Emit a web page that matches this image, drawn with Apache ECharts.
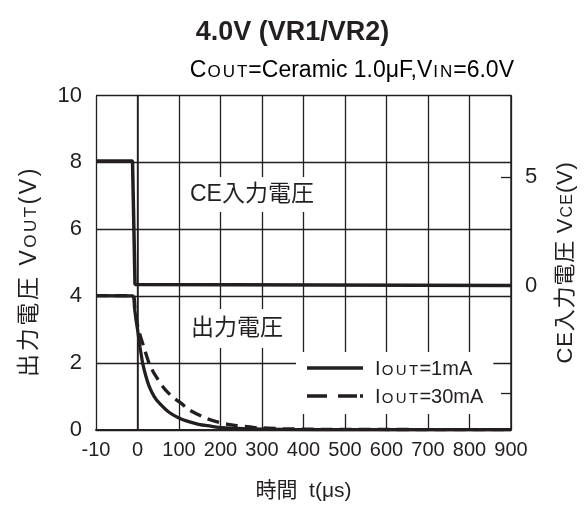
<!DOCTYPE html>
<html><head><meta charset="utf-8">
<script src="https://cdn.jsdelivr.net/npm/echarts@6/dist/echarts.min.js"></script>
<style>html,body{margin:0;padding:0;background:#fff}#c{width:585px;height:507px}</style>
</head><body><div id="c"></div>
<script>
// ---- data ----
const xTickLabels = ['-10','0','100','200','300','400','500','600','700','800','900'];
const ceTime = [-100, -12, -6, 900];
const ceVolt = [5.75, 5.75, 0.05, 0.0];
const out1Time = [-100, -11, -7.3, -3.3, 0.6, 4.6, 8.6, 12.5, 20.4, 28.4, 40.3, 52.1, 75.9, 99.7, 123.5, 147, 178.9, 202, 257, 350, 500, 900];
const out1Volt = [4.02, 4.01, 3.66, 3.27, 2.97, 2.58, 2.28, 1.99, 1.60, 1.30, 1.00, 0.81, 0.53, 0.36, 0.25, 0.17, 0.11, 0.07, 0.04, 0.02, 0.01, 0.01];
const out30Time = [-100, -11, -6, -1, 3, 16, 28, 40, 64, 85, 104, 125, 163, 190, 218, 280, 350, 450, 900];
const out30Volt = [4.02, 4.02, 3.6, 3.2, 2.97, 2.45, 1.99, 1.69, 1.25, 0.98, 0.81, 0.60, 0.36, 0.25, 0.17, 0.08, 0.04, 0.02, 0.01];
const rightLabelValues = [0, 5];
const rightTickValues = [-5, 0, 5];
const seriesNames = ['IOUT=1mA', 'IOUT=30mA'];

// ---- style ----
const INK = '#231f20';
const FF = "'Liberation Sans', Arial, 'Noto Sans CJK JP', sans-serif";
function tok(str, key) { return str.split('').map(c => '{' + key + '|' + c + '}').join(''); }
function richSet(big, small, padBig, padSmall) {
  return {
    n: { fontSize: big, fontFamily: FF, color: INK, verticalAlign: 'bottom', lineHeight: big + 2, padding: [0, padBig, 0, padBig] },
    s: { fontSize: small, fontFamily: FF, color: INK, verticalAlign: 'bottom', lineHeight: small + 2, padding: [0, padSmall, Math.round(big * 0.06), padSmall] }
  };
}
const pair = (ts, vs) => ts.map((t, i) => [t, vs[i]]);

const chart = echarts.init(document.getElementById('c'), null, { renderer: 'canvas' });
const option = {
  backgroundColor: '#fff',
  animation: false,
  textStyle: { fontFamily: FF, color: INK },
  title: {
    text: '4.0V (VR1/VR2)', left: 'center', top: 14,
    textStyle: { fontSize: 27, fontWeight: 'bold', color: INK, fontFamily: FF }
  },
  grid: { left: 96, right: 68, top: 95.5, bottom: 73, containLabel: false },
  legend: {
    orient: 'vertical', left: 296, top: 352,
    backgroundColor: '#fff', padding: [7, 10, 7, 11],
    itemWidth: 56, itemHeight: 14, itemGap: 8, symbolKeepAspect: true,
    data: [
      { name: seriesNames[0], icon: 'path://M0,0H56V3.5H0Z' },
      { name: seriesNames[1], icon: 'path://M0,0H20V3.5H0Z M31,0H50V3.5H31Z M53,0H56V3.5H53Z' }
    ],
    formatter: function (name) {
      const m = name.match(/^IOUT(.*)$/);
      return '{n|I}' + tok('OUT', 's') + '{n|' + m[1] + '}';
    },
    textStyle: { padding: [0, 0, 0, 7], rich: richSet(20, 15, 0, 1.2) }
  },
  xAxis: {
    type: 'value', min: -100, max: 900, interval: 100,
    axisLine: { show: true, lineStyle: { color: INK, width: 2 } },
    axisTick: { show: false },
    splitLine: { show: true, lineStyle: { color: INK, width: 1.3 } },
    axisLabel: {
      fontSize: 20, margin: 10, color: INK, fontFamily: FF,
      formatter: v => xTickLabels[Math.round((v + 100) / 100)]
    },
    name: '時間  t(μs)', nameLocation: 'middle', nameGap: 51,
    nameTextStyle: { fontSize: 21, color: INK, fontFamily: FF }
  },
  yAxis: [{
    type: 'value', min: 0, max: 10, interval: 2,
    axisLine: { show: true, lineStyle: { color: INK, width: 1.5 } },
    axisTick: { show: false },
    splitLine: { show: true, lineStyle: { color: INK, width: 1.3 } },
    axisLabel: { fontSize: 22, margin: 14, color: INK, fontFamily: FF },
    name: tok('出力電圧 V', 'n') + tok('OUT', 's') + tok('(V)', 'n'),
    nameLocation: 'middle', nameRotate: 90, nameGap: 55,
    nameTextStyle: { rich: richSet(23, 17, 1.3, 1.2), padding: [0, 20, 0, 0] }
  }, {
    type: 'value', position: 'right', min: -6.68, max: 8.78,
    axisLine: { show: true, lineStyle: { color: INK, width: 1.5 } },
    axisTick: { show: true, inside: true, length: 10, customValues: rightTickValues, lineStyle: { color: INK, width: 1.3 } },
    splitLine: { show: false },
    axisLabel: { fontSize: 22, margin: 14, color: INK, fontFamily: FF, customValues: rightLabelValues },
    name: tok('CE入力電圧 V', 'n') + tok('CE', 's') + tok('(V)', 'n'),
    nameLocation: 'middle', nameRotate: 90, nameGap: 42,
    nameTextStyle: { rich: richSet(22, 16, 0.4, 0.6) }
  }],
  graphic: [{
    type: 'text', right: 71, top: 59,
    style: {
      text: '{n|C}' + tok('OUT', 's') + '{n|=Ceramic 1.0μF,V}' + tok('IN', 's') + '{n|=6.0V}',
      rich: richSet(23, 17, 0, 1.0)
    }
  }, {
    type: 'text', left: 185, top: 177, z: 10,
    style: {
      text: 'CE入力電圧', fontSize: 23, fontFamily: FF, fill: INK,
      backgroundColor: '#fff', padding: [6, 5, 6, 5]
    }
  }, {
    type: 'text', left: 186, top: 309, z: 10,
    style: {
      text: '出力電圧', fontSize: 23, fontFamily: FF, fill: INK,
      backgroundColor: '#fff', padding: [8, 5, 8, 5]
    }
  }],
  series: [{
    name: seriesNames[1], type: 'line', yAxisIndex: 0, z: 3,
    data: pair(out30Time, out30Volt), symbol: 'none', smooth: 0.2,
    lineStyle: { color: INK, width: 3.3, type: [12, 7] }, itemStyle: { color: INK }
  }, {
    name: seriesNames[0], type: 'line', yAxisIndex: 0, z: 4,
    data: pair(out1Time, out1Volt), symbol: 'none', smooth: 0.2,
    lineStyle: { color: INK, width: 3.3 }, itemStyle: { color: INK }
  }, {
    name: 'CE', type: 'line', yAxisIndex: 1, z: 4,
    data: pair(ceTime, ceVolt), symbol: 'none',
    lineStyle: { color: INK, width: 3.5 }, itemStyle: { color: INK }
  }]
};
chart.setOption(option);
</script>
</body></html>
